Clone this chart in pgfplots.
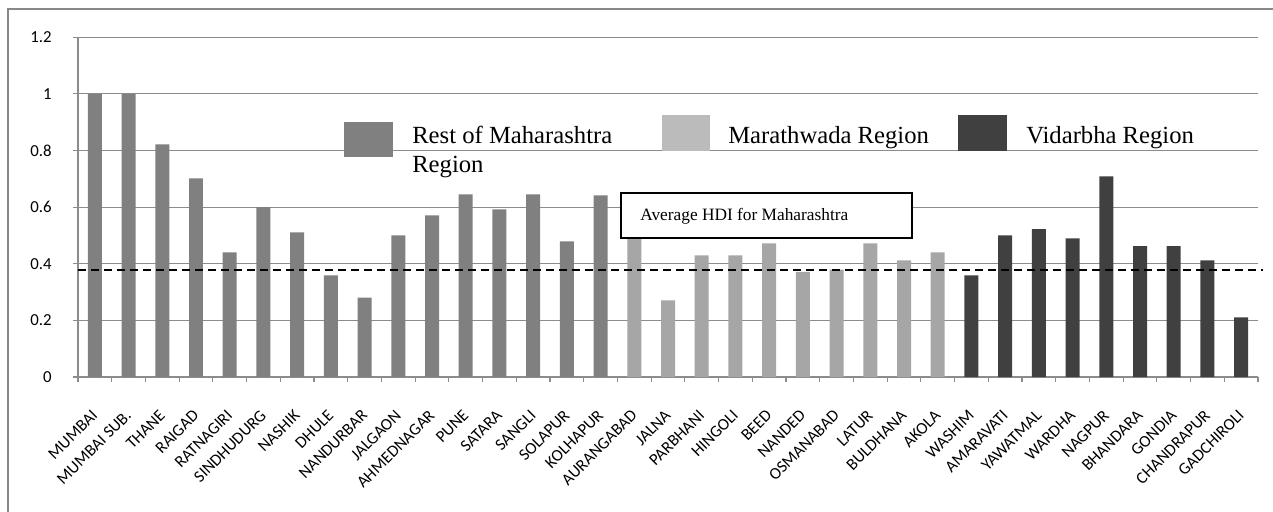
\documentclass[border=0pt]{standalone}
\usepackage{pgfplots}
\pgfplotsset{compat=1.18}
\usepackage{fontspec}
\setmainfont{Carlito}
\newfontfamily\serif{Liberation Serif}
\definecolor{restc}{HTML}{808080}
\definecolor{marc}{HTML}{A6A6A6}
\definecolor{marleg}{HTML}{BBBBBB}
\definecolor{vidc}{HTML}{404040}
\definecolor{gridc}{HTML}{8C8C8C}
\definecolor{framec}{HTML}{888888}
\begin{document}
\begin{tikzpicture}
\useasboundingbox (0pt,0pt) rectangle (954.75pt,-383.25pt);
\begin{axis}[
  at={(58.5pt,-282.75pt)}, anchor=south west,
  scale only axis, width=885pt, height=254.8pt,
  xmin=-0.5, xmax=34.5, ymin=0, ymax=1.2,
  axis lines*=left,
  axis line style={draw=gridc, line width=0.9pt},
  ymajorgrids, grid style={draw=gridc, line width=0.9pt},
  ytick={0,0.2,0.4,0.6,0.8,1,1.2},
  xtick={0,...,34},
  xticklabels={MUMBAI,MUMBAI SUB.,THANE,RAIGAD,RATNAGIRI,SINDHUDURG,NASHIK,DHULE,NANDURBAR,JALGAON,AHMEDNAGAR,PUNE,SATARA,SANGLI,SOLAPUR,KOLHAPUR,AURANGABAD,JALNA,PARBHANI,HINGOLI,BEED,NANDED,OSMANABAD,LATUR,BULDHANA,AKOLA,WASHIM,AMARAVATI,YAWATMAL,WARDHA,NAGPUR,BHANDARA,GONDIA,CHANDRAPUR,GADCHIROLI},
  minor xtick={-0.5,0.5,...,34.5},
  tick align=outside,
  major tick length=3.75pt, minor tick length=3.75pt,
  tick style={draw=gridc, line width=0.9pt},
  major x tick style={draw=none},
  clip=false,
  /pgf/number format/assume math mode=true,
  yticklabel style={font=\fontsize{12.6}{15}\selectfont, /pgf/number format/fixed, inner sep=0pt, xshift=-15.75pt},
  xticklabel style={font=\fontsize{12.5}{14}\selectfont, inner sep=0pt, yshift=-23pt, rotate=45, anchor=east},
]
\addplot[ybar, bar width=0.415, bar shift=0pt, fill=restc, draw=none] coordinates {
(0,1.00) (1,1.00) (2,0.822) (3,0.702) (4,0.44) (5,0.60) (6,0.511) (7,0.359)
(8,0.28) (9,0.50) (10,0.571) (11,0.645) (12,0.592) (13,0.645) (14,0.479) (15,0.642)};
\addplot[ybar, bar width=0.415, bar shift=0pt, fill=marc, draw=none] coordinates {
(16,0.55) (17,0.271) (18,0.43) (19,0.43) (20,0.472) (21,0.371) (22,0.379)
(23,0.472) (24,0.412) (25,0.44)};
\addplot[ybar, bar width=0.415, bar shift=0pt, fill=vidc, draw=none] coordinates {
(26,0.359) (27,0.50) (28,0.522) (29,0.49) (30,0.709) (31,0.462) (32,0.462)
(33,0.412) (34,0.211)};
\addplot[black, line width=1.4pt, dash pattern=on 6pt off 3.75pt] coordinates {(-0.5,0.377) (34.65,0.377)};
\end{axis}
\begin{scope}[x=0.75pt, y=-0.75pt]
\draw[framec, line width=1.1pt] (8,520) -- (8,9) -- (1280,9);
\fill[restc] (344,122) rectangle (393,157);
\node[anchor=base west, inner sep=0pt, font=\serif\fontsize{18.5}{22}\selectfont] at (412,143) {Rest of Maharashtra};
\node[anchor=base west, inner sep=0pt, font=\serif\fontsize{18.5}{22}\selectfont] at (412,172) {Region};
\fill[marleg] (662,115) rectangle (710,151);
\node[anchor=base west, inner sep=0pt, font=\serif\fontsize{18.5}{22}\selectfont] at (728,143) {Marathwada Region};
\fill[vidc] (958,115) rectangle (1007,151);
\node[anchor=base west, inner sep=0pt, font=\serif\fontsize{18.5}{22}\selectfont] at (1026,143) {Vidarbha Region};
\draw[black, line width=1.1pt, fill=white] (621,193) rectangle (912,238);
\node[anchor=base west, inner sep=0pt, font=\serif\fontsize{13}{15}\selectfont] at (640,220) {Average HDI for Maharashtra};
\end{scope}
\end{tikzpicture}
\end{document}
